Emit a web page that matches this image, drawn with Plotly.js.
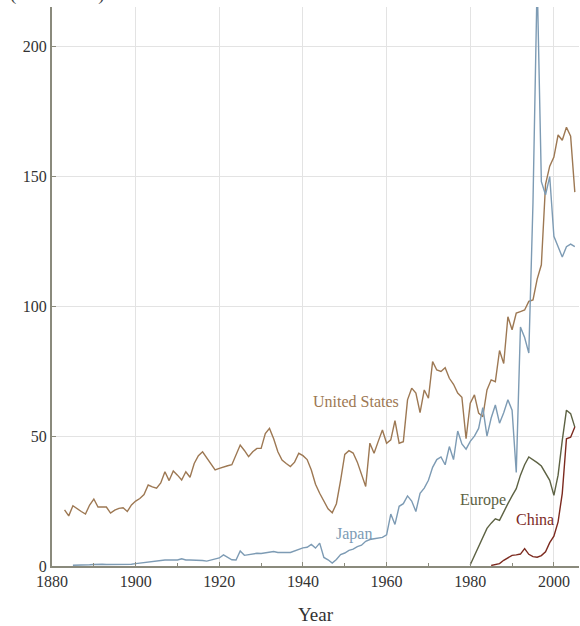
<!DOCTYPE html>
<html>
<head>
<meta charset="utf-8">
<script src="https://cdn.plot.ly/plotly-3.0.1.min.js"></script>
<style>html,body{margin:0;padding:0;background:#fff;}#chart{width:580px;height:626px;}</style>
</head>
<body>
<div id="chart"></div>
<script>
// United States (1883-2005)
const usYears = [];
for (let y = 1883; y <= 2005; y++) usYears.push(y);
const usValues = [
  21.6,19.3,23.2,22,21,20,23.5,25.8,22.7,22.7,22.7,20.4,21.5,22.2,22.4,21,23.5,   // 1883-1899
  25,26,27.5,31.2,30.5,30,32,36.3,32.9,36.6,35,33.1,36.3,34.2,39.5,42.5,44,41.5,39,37, // 1900-1919
  37.6,38.2,38.6,39,43,46.6,44.5,42.1,44,45.3,45.3,51,53,49,44,40.8,39.5,38.3,40,43.4, // 1920-1939
  42.5,41,37,31.5,28,25,22,20.5,24,33,43,44.4,43.5,40,35,30.6,47.3,43.4,48,52.4,       // 1940-1959
  47.3,48.6,56,47.3,47.9,64,68.5,66.6,59.1,67.8,64.6,78.7,75.5,74.9,76.4,72.3,70,66.6,65,49, // 1960-1979
  62.7,65.9,58.9,57.5,67.8,71.7,71,83,78,96,91,97.4,98,98.6,101.9,102.5,110.5,116,147,154, // 1980-1999
  157.5,166,164,169,165.5,144                                                          // 2000-2005
];

// Japan (1885-2005)
const jpYears = [];
for (let y = 1885; y <= 2005; y++) jpYears.push(y);
const jpValues = [
  0.3,0.3,0.4,0.4,0.5,0.6,0.7,0.7,0.6,0.6,0.5,0.5,0.5,0.6,0.7,                         // 1885-1899
  0.9,1.1,1.3,1.6,1.9,2,2.2,2.3,2.3,2.2,2.3,2.8,2.3,2.3,2.3,2.2,2.1,1.9,2.3,2.8,         // 1900-1919
  3.1,4.3,3.2,2.4,2.3,5.8,4.1,4.3,4.6,4.9,4.8,5,5.4,5.6,5.2,5.1,5.2,5.2,5.8,6.6,         // 1920-1939
  7,7.2,8.3,6.9,8.8,3.3,2.4,1.1,2.5,4.4,5,6,6.5,7.5,8,9.5,10.2,10.5,10.8,11,             // 1940-1959
  12,20,16,23,24,27,25,21,28,30,33,38,41,42,39,46,41,52,47,45,                          // 1960-1979
  48,50,53,61,50,57,62,55,59,64,60,36,92,88,82,140,226,148,143,150,                     // 1980-1999
  127,123,119,123,124,123                                                               // 2000-2005
];

// Europe (1980-2005)
const euYears = [1980,1981,1982,1983,1984,1985,1986,1987,1988,1989,1990,1991,1992,1993,1994,1995,1996,1997,1998,1999,2000,2001,2002,2003,2004,2005];
const euValues = [0.5,4,7.3,11,14.5,16.5,18.2,17.6,21,24,27,29.8,35,39,42,41,39.8,38.5,36,33,27.2,35,48.4,60,58.7,53.5];

// China (1985-2005)
const cnYears = [1985,1986,1987,1988,1989,1990,1991,1992,1993,1994,1995,1996,1997,1998,1999,2000,2001,2002,2003,2004,2005];
const cnValues = [0.2,0.5,0.9,2.2,3.2,4.1,4.3,4.6,6.7,4.5,3.6,3.4,4,5.5,9,11.5,17,28,49,49.6,53.5];

// Series labels
const labelNames = ["United States","Japan","Europe","China"];
const labelX = [1952.7,1952.2,1983.0,1995.5];
const labelY = [63.4,12.2,25.3,18];

const colors = {us:"#9d7853", jp:"#7d9bb4", eu:"#5d6243", cn:"#7c2a1f"};
const colorList = [colors.us, colors.jp, colors.eu, colors.cn];
const fontFam = "Liberation Serif, Times New Roman, serif";

const traces = [
  {x: usYears, y: usValues, name: "United States", line: {color: colors.us, width: 1.4}},
  {x: jpYears, y: jpValues, name: "Japan", line: {color: colors.jp, width: 1.4}},
  {x: euYears, y: euValues, name: "Europe", line: {color: colors.eu, width: 1.4}},
  {x: cnYears, y: cnValues, name: "China", line: {color: colors.cn, width: 1.4}}
].map(t => Object.assign({type: "scatter", mode: "lines", hoverinfo: "skip"}, t));

const annotations = labelNames.map((n, i) => ({
  x: labelX[i], y: labelY[i], xref: "x", yref: "y", text: n, showarrow: false,
  font: {family: fontFam, size: 16, color: colorList[i]}
}));
annotations.push({
  x: 0, y: 1, xref: "paper", yref: "paper", text: "(in millions)", showarrow: false,
  xanchor: "center", yanchor: "bottom", xshift: 5, yshift: 0,
  font: {family: fontFam, size: 19, color: "#444"}
});

const layout = {
  width: 580, height: 626,
  margin: {l: 52, r: 1, t: 7, b: 60},
  paper_bgcolor: "#fff", plot_bgcolor: "#fff",
  showlegend: false,
  font: {family: fontFam, size: 16, color: "#333"},
  xaxis: {
    range: [1880, 2006], tick0: 1880, dtick: 20,
    showgrid: true, gridcolor: "#e3e3e3", gridwidth: 1,
    zeroline: false, showline: true, linecolor: "#8a8a7c", linewidth: 2,
    ticks: "inside", ticklen: 4, tickcolor: "#8a8a7c",
    minor: {dtick: 10, ticks: "inside", ticklen: 3, tickcolor: "#8a8a7c", showgrid: false},
    tickfont: {family: fontFam, size: 16, color: "#333"},
    title: {text: "Year", font: {family: fontFam, size: 19, color: "#333"}, standoff: 18}
  },
  yaxis: {
    range: [0, 215.3], tick0: 0, dtick: 50,
    showgrid: true, gridcolor: "#e3e3e3", gridwidth: 1,
    zeroline: false, showline: true, linecolor: "#8a8a7c", linewidth: 2,
    ticks: "inside", ticklen: 4, tickcolor: "#8a8a7c",
    tickfont: {family: fontFam, size: 16, color: "#333"}
  },
  annotations: annotations
};

Plotly.newPlot("chart", traces, layout, {displayModeBar: false, staticPlot: true});
</script>
</body>
</html>
